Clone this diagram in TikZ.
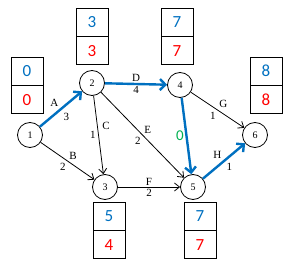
\documentclass[tikz,border=0pt]{standalone}
\usepackage{fontspec}
\setmainfont{Liberation Serif}
\newfontfamily\boxfont{Carlito}
\usepackage{tikz}
\usetikzlibrary{positioning, arrows.meta}
\definecolor{netblue}{RGB}{0,112,192}
\definecolor{netgreen}{RGB}{0,176,80}
\begin{document}
\begin{tikzpicture}[x=1pt, y=-1pt,
                event/.style={draw=black, line width=0.8pt, circle, minimum size=25pt, inner sep=0pt, font=\fontsize{10}{10}\selectfont},
                timebox/.style={draw=black, line width=0.8pt, rectangle, minimum width=32pt, minimum height=28pt, inner sep=0pt, font=\boxfont\fontsize{17}{17}\selectfont},
                act/.style={line width=0.8pt, -{Straight Barb[length=5pt, width=8pt]}},
                critical/.style={draw=netblue, line width=2.4pt, -{Straight Barb[length=5.5pt, width=11pt]}},
                actlabel/.style={font=\fontsize{11}{11}\selectfont, inner sep=1.5pt}
            ]
            \useasboundingbox (0,0) rectangle (292,267);

            % Knoten
            \node[event] (n1) at (30,135) {1};
            \node[event] (n2) at (92,83) {2};
            \node[event] (n3) at (105,187) {3};
            \node[event] (n4) at (180,85) {4};
            \node[event] (n5) at (193,187) {5};
            \node[event] (n6) at (255,135) {6};

            % Zeitfelder
            \node[timebox, text=netblue] (t1) at (27,71) {0};
            \node[timebox, text=red, below=0pt of t1] (b1) {0};
            \node[timebox, text=netblue] (t2) at (92,22) {3};
            \node[timebox, text=red, below=0pt of t2] (b2) {3};
            \node[timebox, text=netblue] (t3) at (109,216) {5};
            \node[timebox, text=red, below=0pt of t3] (b3) {4};
            \node[timebox, text=netblue] (t4) at (177,22) {7};
            \node[timebox, text=red, below=0pt of t4] (b4) {7};
            \node[timebox, text=netblue] (t5) at (200,216) {7};
            \node[timebox, text=red, below=0pt of t5] (b5) {7};
            \node[timebox, text=netblue] (t6) at (266,71) {8};
            \node[timebox, text=red, below=0pt of t6] (b6) {8};

            % Kanten zwischen Knoten
            \draw[critical] (n1) -- (n2) node[midway, above left, actlabel] {A} node[midway, below right, actlabel, yshift=-2pt] {3};
            \draw[act] (n1) -- (n3) node[midway, above right, actlabel] {B} node[midway, below left, actlabel] {2};
            \draw[act] (n2) -- (n3) node[midway, right, actlabel, yshift=9pt, xshift=2pt] {C} node[midway, left, actlabel, xshift=-1pt] {1};
            \draw[critical] (n2) -- (n4) node[midway, above, actlabel] {D} node[midway, below, actlabel] {4};
            \draw[act] (n2) -- (n5) node[midway, above right, actlabel] {E} node[midway, below left, actlabel] {2};
            \draw[act] (n3) -- (n5) node[midway, above, actlabel] {F} node[midway, below, actlabel] {2};
            \draw[act] (n4) -- (n6) node[midway, above right, actlabel] {G} node[midway, below left, actlabel] {1};
            \draw[critical] (n4) -- (n5) node[midway, left, actlabel, text=netgreen, font=\boxfont\fontsize{15}{15}\selectfont] {0};
            \draw[critical] (n5) -- (n6) node[midway, above left, actlabel] {H} node[midway, below right, actlabel] {1};

        \end{tikzpicture}
\end{document}
